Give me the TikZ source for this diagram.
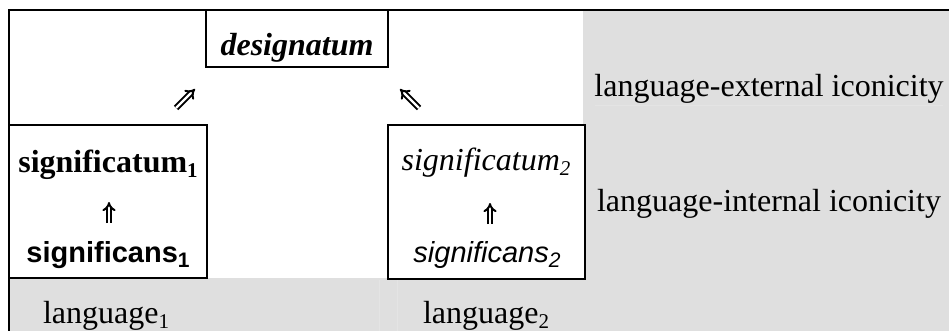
\documentclass[tikz,border=0pt]{standalone}
\usepackage{fontspec}
\setmainfont{Liberation Serif}
\setsansfont{Liberation Sans}
\usetikzlibrary{arrows.meta}

\definecolor{cellgray}{HTML}{DFDFDF}
\definecolor{cellrule}{HTML}{E4E4E4}

% lowered index in the current family, series and shape
\newcommand\lowidx[1]{\raisebox{-5pt}{\fontsize{21}{21}\selectfont #1}}
\newcommand\serifsize{\fontsize{32}{38}\selectfont}
\newcommand\sanssize{\sffamily\fontsize{29}{35}\selectfont}

\tikzset{
  framebox/.style={draw=black, line width=2pt, inner sep=0pt, outer sep=0pt,
                   anchor=north west, fill=white},
  label/.style={inner sep=0pt, outer sep=0pt, anchor=base, text=black},
  dblarrow/.style={double=white, draw=black, line width=2pt,
                   double distance=2.2pt, -{Implies[scale=1.05]}},
  faintrule/.style={draw=cellrule, line width=0.8pt}
}

\begin{document}
\begin{tikzpicture}[x=1pt, y=-1pt]
  \useasboundingbox (0,0) rectangle (949,331);

  % shaded cells: right column and bottom row
  \fill[cellgray] (583,11) rectangle (949,331);
  \fill[cellgray] (9,278) rectangle (949,331);
  \draw[faintrule] (379,280) -- (379,331);
  \draw[faintrule] (397,280) -- (397,331);
  \draw[faintrule] (595,105) -- (943,105);

  % outer frame (top and left)
  \draw[line width=2pt] (949,10) -- (9,10) -- (9,331);

  % boxes
  \node[framebox, minimum width=182pt, minimum height=57pt] (dbox) at (206,10) {};
  \node[framebox, minimum width=198pt, minimum height=153pt] (lbox) at (9,125) {};
  \node[framebox, minimum width=197pt, minimum height=154pt] (rbox) at (388,125) {};

  % texts in the boxes
  \node[label] (desig) at (297,56) {\serifsize\bfseries\itshape designatum};
  \node[label] (sgt1) at (108,172) {\serifsize\bfseries significatum\lowidx{1}};
  \node[label] (sgn1) at (108,262) {\sanssize\bfseries significans\lowidx{1}};
  \node[label] (sgt2) at (486,171) {\serifsize\itshape significatum\lowidx{2}};
  \node[label] (sgn2) at (487,262) {\sanssize\itshape significans\lowidx{2}};

  % row and column labels
  \node[label] (ext) at (769,97) {\serifsize language-external iconicity};
  \node[label] (int) at (769,211) {\serifsize language-internal iconicity};
  \node[label] (lang1) at (106,323) {\serifsize language\lowidx{1}};
  \node[label] (lang2) at (486,323) {\serifsize language\lowidx{2}};

  % double arrows
  \coordinate (l1) at (109,223);
  \coordinate (l2) at (109,202);
  \coordinate (r1) at (490,224);
  \coordinate (r2) at (490,203);
  \coordinate (ne1) at (176,108);
  \coordinate (ne2) at (195,89);
  \coordinate (nw1) at (419,108);
  \coordinate (nw2) at (400,89);
  \draw[dblarrow] (l1) -- (l2);
  \draw[dblarrow] (r1) -- (r2);
  \draw[dblarrow] (ne1) -- (ne2);
  \draw[dblarrow] (nw1) -- (nw2);
\end{tikzpicture}
\end{document}
